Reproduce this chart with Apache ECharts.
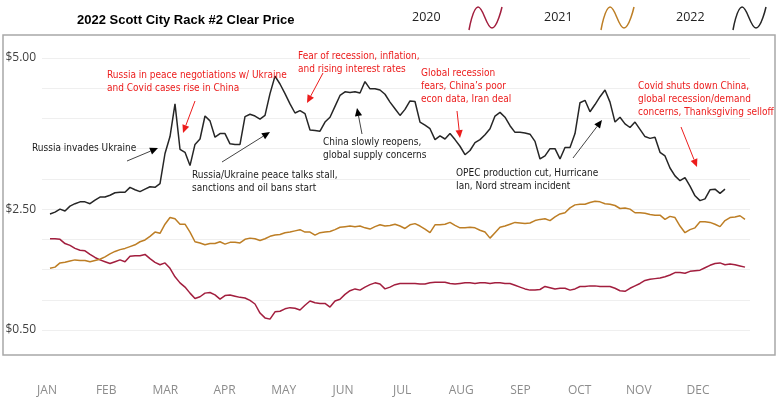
<!DOCTYPE html>
<html>
<head>
<meta charset="utf-8">
<script src="https://cdn.jsdelivr.net/npm/echarts@6/dist/echarts.min.js"></script>
<style>
  html, body { margin: 0; padding: 0; background: #fff; }
  #main { width: 780px; height: 399px; }
</style>
</head>
<body>
<div id="main"></div>
<script>
"use strict";
// ---------------- data (about one value every 2.6 days) ----------------
var months = ['JAN', 'FEB', 'MAR', 'APR', 'MAY', 'JUN', 'JUL', 'AUG', 'SEP', 'OCT', 'NOV', 'DEC'];
var years = ['2020', '2021', '2022'];
var yLabels = [5.00, 2.50, 0.50];

var price2020 = [2.01, 2.01, 2.00, 1.93, 1.90, 1.85, 1.82, 1.81, 1.75, 1.70,
  1.66, 1.63, 1.60, 1.63, 1.66, 1.63, 1.72, 1.73, 1.73, 1.75,
  1.68, 1.62, 1.58, 1.61, 1.52, 1.38, 1.28, 1.21, 1.11, 1.02,
  1.05, 1.11, 1.12, 1.08, 1.01, 1.07, 1.08, 1.06, 1.04, 1.03,
  0.99, 0.93, 0.78, 0.70, 0.68, 0.80, 0.81, 0.85, 0.87, 0.86,
  0.83, 0.91, 0.98, 0.95, 0.94, 0.94, 0.88, 0.98, 1.01, 1.09,
  1.15, 1.18, 1.16, 1.21, 1.25, 1.28, 1.26, 1.18, 1.21, 1.25,
  1.27, 1.27, 1.27, 1.27, 1.26, 1.26, 1.28, 1.29, 1.29, 1.29,
  1.27, 1.26, 1.27, 1.28, 1.28, 1.27, 1.28, 1.28, 1.27, 1.28,
  1.28, 1.27, 1.27, 1.24, 1.21, 1.18, 1.16, 1.16, 1.17, 1.22,
  1.20, 1.18, 1.19, 1.19, 1.16, 1.18, 1.22, 1.22, 1.23, 1.23,
  1.22, 1.22, 1.22, 1.19, 1.15, 1.14, 1.19, 1.23, 1.27, 1.32,
  1.34, 1.35, 1.36, 1.38, 1.41, 1.45, 1.45, 1.44, 1.47, 1.48,
  1.49, 1.53, 1.57, 1.60, 1.61, 1.58, 1.59, 1.58, 1.56, 1.54];

var price2021 = [1.52, 1.54, 1.61, 1.62, 1.64, 1.66, 1.65, 1.65, 1.63, 1.65,
  1.67, 1.71, 1.76, 1.80, 1.83, 1.85, 1.88, 1.91, 1.96, 1.99,
  2.05, 2.12, 2.10, 2.25, 2.36, 2.34, 2.25, 2.25, 2.12, 1.96,
  1.94, 1.91, 1.93, 1.93, 1.96, 1.92, 1.95, 1.95, 1.94, 2.00,
  2.02, 2.01, 1.98, 2.01, 2.05, 2.07, 2.08, 2.11, 2.12, 2.14,
  2.16, 2.12, 2.12, 2.07, 2.11, 2.12, 2.13, 2.16, 2.20, 2.21,
  2.22, 2.21, 2.22, 2.19, 2.17, 2.21, 2.24, 2.22, 2.23, 2.25,
  2.22, 2.18, 2.24, 2.26, 2.22, 2.17, 2.11, 2.24, 2.24, 2.25,
  2.28, 2.23, 2.19, 2.19, 2.20, 2.19, 2.15, 2.12, 2.02, 2.11,
  2.20, 2.22, 2.25, 2.28, 2.27, 2.26, 2.27, 2.31, 2.33, 2.34,
  2.31, 2.37, 2.42, 2.44, 2.52, 2.57, 2.58, 2.58, 2.61, 2.63,
  2.62, 2.59, 2.58, 2.56, 2.51, 2.52, 2.50, 2.44, 2.44, 2.43,
  2.41, 2.40, 2.40, 2.33, 2.38, 2.36, 2.22, 2.11, 2.16, 2.19,
  2.29, 2.29, 2.28, 2.25, 2.21, 2.31, 2.36, 2.37, 2.39, 2.33];

var price2022 = [2.42, 2.45, 2.50, 2.47, 2.55, 2.59, 2.62, 2.62, 2.59, 2.65,
  2.70, 2.70, 2.73, 2.77, 2.78, 2.78, 2.86, 2.82, 2.79, 2.83,
  2.87, 2.86, 2.92, 3.42, 3.70, 4.24, 3.49, 3.44, 3.22, 3.57,
  3.66, 4.04, 3.96, 3.69, 3.75, 3.75, 3.58, 3.57, 3.57, 4.03,
  4.07, 4.04, 3.99, 4.05, 4.41, 4.70, 4.57, 4.41, 4.24, 4.09,
  4.13, 4.08, 3.81, 3.80, 3.79, 3.94, 4.02, 4.20, 4.38, 4.44,
  4.43, 4.44, 4.42, 4.61, 4.49, 4.49, 4.47, 4.40, 4.27, 4.16,
  4.05, 4.15, 4.29, 4.28, 3.94, 3.89, 3.83, 3.65, 3.71, 3.66,
  3.75, 3.65, 3.54, 3.40, 3.47, 3.60, 3.65, 3.73, 3.83, 4.04,
  4.10, 4.02, 3.88, 3.77, 3.77, 3.76, 3.74, 3.62, 3.33, 3.38,
  3.50, 3.50, 3.33, 3.52, 3.52, 3.75, 4.26, 4.30, 4.11, 4.23,
  4.36, 4.47, 4.27, 3.94, 4.02, 3.91, 3.85, 3.94, 3.82, 3.70,
  3.67, 3.69, 3.44, 3.38, 3.18, 3.05, 2.97, 3.02, 2.88, 2.72,
  2.64, 2.67, 2.82, 2.83, 2.76, 2.83];

var colors = ['#a21e3e', '#bd7e25', '#262626'];

// ---------------- annotations ----------------
var RED = '#ec1c1c', DARK = '#1c1c1c';
var notes = [
  { text: 'Russia in peace negotiations w/ Ukraine\nand Covid cases rise in China', x: 107, y: 69, color: RED },
  { text: 'Russia invades Ukraine', x: 32, y: 141.5, color: DARK },
  { text: 'Russia/Ukraine peace talks stall,\nsanctions and oil bans start', x: 192, y: 168.5, color: DARK },
  { text: 'Fear of recession, inflation,\nand rising interest rates', x: 298, y: 50, color: RED },
  { text: 'China slowly reopens,\nglobal supply concerns', x: 323, y: 135.5, color: DARK },
  { text: 'Global recession\nfears, China\u2019s poor\necon data, Iran deal', x: 421, y: 67.3, color: RED },
  { text: 'OPEC production cut, Hurricane\nIan, Nord stream incident', x: 456, y: 167, color: DARK },
  { text: 'Covid shuts down China,\nglobal recession/demand\nconcerns, Thanksgiving selloff', x: 638, y: 80, color: RED }
];
var arrows = [
  [195, 101, 183, 133, RED, RED],
  [127, 161, 158, 148, '#444', '#000'],
  [222, 162, 270, 132, '#444', '#000'],
  [323, 73, 307, 103, RED, RED],
  [362, 134, 357, 108, '#444', '#000'],
  [457, 111, 460, 138, RED, RED],
  [573, 158, 602, 120, '#444', '#000'],
  [681, 127, 697, 167, RED, RED]
];

function arrowEls(a){
  var x1 = a[0], y1 = a[1], x2 = a[2], y2 = a[3];
  var ang = Math.atan2(y2 - y1, x2 - x1), L = 8, W = 3.6;
  var bx = x2 - L * Math.cos(ang), by = y2 - L * Math.sin(ang);
  var px = -Math.sin(ang) * W, py = Math.cos(ang) * W;
  return [
    { type: 'line', shape: { x1: x1, y1: y1, x2: bx, y2: by }, style: { stroke: a[4], lineWidth: 1 }, z: 50 },
    { type: 'polygon', shape: { points: [[x2, y2], [bx + px, by + py], [bx - px, by - py]] }, style: { fill: a[5] }, z: 50 }
  ];
}

var noteFont = "10px 'DejaVu Sans Condensed', 'Liberation Sans', sans-serif";
var graphics = [
  { type: 'rect', shape: { x: 3, y: 35, width: 772, height: 320 }, style: { fill: 'none', stroke: '#a8a8a8', lineWidth: 1.5 }, z: 1 }
];
notes.forEach(function(n){
  graphics.push({ type: 'text', x: n.x, y: n.y, z: 50,
    style: { text: n.text, font: noteFont, fill: n.color, lineHeight: 13, verticalAlign: 'top' } });
});
arrows.forEach(function(a){ graphics = graphics.concat(arrowEls(a)); });

// legend: year text followed by a little wave in the series colour
var legendX = [412, 544, 676];
years.forEach(function(y, k){
  graphics.push({ type: 'text', x: legendX[k], y: 17, z: 50,
    style: { text: y, font: "12.5px 'Open Sans', sans-serif", fill: '#222', verticalAlign: 'middle' } });
  graphics.push({ type: 'polyline', x: legendX[k] + 57, y: 6, z: 50,
    shape: { points: [[0, 24], [9, 1], [23, 22], [33, 1]], smooth: 0.45 },
    style: { fill: 'none', stroke: colors[k], lineWidth: 1.5 } });
});

function pairs(arr){ return arr.map(function(v, i){ return [i, v]; }); }

var chart = echarts.init(document.getElementById('main'));
chart.setOption({
  animation: false,
  title: { text: '2022 Scott City Rack #2 Clear Price', left: 72, top: 9,
    textStyle: { fontFamily: "'Liberation Sans', sans-serif", fontWeight: 'bold', fontSize: 13, color: '#000' } },
  grid: [
    { left: 42, right: 30, top: 58, bottom: 69 },
    { left: 47, right: 82, top: 372, height: 10 }
  ],
  xAxis: [
    { type: 'value', min: -1.6, max: 140, show: false },
    { type: 'category', gridIndex: 1, data: months, boundaryGap: false,
      axisLine: { show: false }, axisTick: { show: false },
      axisLabel: { interval: 0, margin: 3, color: '#8c8c8c', fontSize: 12, fontFamily: "'Open Sans', sans-serif" } }
  ],
  yAxis: [
    { type: 'value', min: 0.5, max: 5, interval: 0.5,
      axisLine: { show: false }, axisTick: { show: false },
      splitLine: { lineStyle: { color: '#efefef', width: 1 } },
      axisLabel: { margin: 6, color: '#404040', fontSize: 12, fontFamily: "'Open Sans', sans-serif",
        formatter: function(v){
          for (var k = 0; k < yLabels.length; k++) if (Math.abs(v - yLabels[k]) < 1e-6) return '$' + v.toFixed(2);
          return '';
        } } },
    { type: 'value', gridIndex: 1, show: false }
  ],
  series: [
    { name: years[0], type: 'line', data: pairs(price2020), showSymbol: false, lineStyle: { color: colors[0], width: 1.5 }, itemStyle: { color: colors[0] } },
    { name: years[1], type: 'line', data: pairs(price2021), showSymbol: false, lineStyle: { color: colors[1], width: 1.5 }, itemStyle: { color: colors[1] } },
    { name: years[2], type: 'line', data: pairs(price2022), showSymbol: false, lineStyle: { color: colors[2], width: 1.5 }, itemStyle: { color: colors[2] } }
  ],
  graphic: graphics
});
</script>
</body>
</html>
